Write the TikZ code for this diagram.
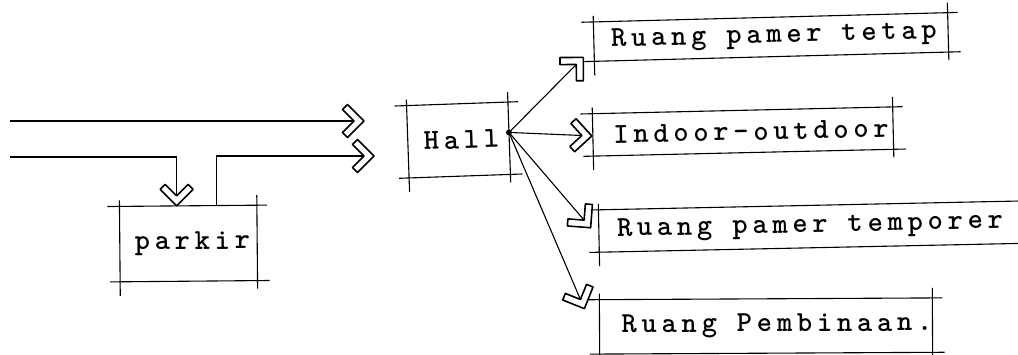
\documentclass[tikz,border=0pt]{standalone}
\usepackage{fontspec}
\newfontfamily\tw{lmmonolt10-bold.otf}[LetterSpace=16.5]
\usetikzlibrary{calc,decorations.markings}
\tikzset{
  ln/.style={line width=1.1pt},
  chev/.style={postaction={decorate},decoration={markings,mark=at position 1 with {%
     \draw[line width=1.6pt,fill=white,line join=round]
       (0,0)--(-16.5,16.5)--(-21.5,11.5)--(-10,0)--(-21.5,-11.5)--(-16.5,-16.5)--cycle;}}},
  skb/.style={inner sep=0pt, font=\tw\fontsize{29}{32}\selectfont}
}
\newcommand\skbox[1]{%
  \draw[ln] ($(#1.north west)!-12pt!(#1.north east)$) -- ($(#1.north east)!-10pt!(#1.north west)$)
            ($(#1.south west)!-10pt!(#1.south east)$) -- ($(#1.south east)!-12pt!(#1.south west)$)
            ($(#1.north west)!-6pt!(#1.south west)$) -- ($(#1.south west)!-14pt!(#1.north west)$)
            ($(#1.north east)!-10pt!(#1.south east)$) -- ($(#1.south east)!-8pt!(#1.north east)$);}
\begin{document}
\begin{tikzpicture}[x=1pt,y=-1pt]
\clip (0,0) rectangle (1018,354);
\fill[white] (0,0) rectangle (1018,354);
% boxes
\node[skb, minimum width=137pt, minimum height=75pt, rotate=0.5] (parkir) at (188.5,243.5) {\hspace*{8pt}parkir};
\node[skb, minimum width=101pt, minimum height=72pt, rotate=2] (hall) at (458.5,140) {\hspace*{6pt}Hall};
\node[skb, minimum width=354pt, minimum height=39pt, rotate=1.5] (tetap) at (771,37) {\hspace*{6pt}Ruang pamer tetap};
\node[skb, minimum width=300pt, minimum height=42pt, rotate=1.3] (indoor) at (743,131.5) {\hspace*{16pt}Indoor-outdoor};
\node[skb, minimum width=460pt, minimum height=42pt, rotate=1.2] (temporer) at (829,226.2) {\hspace*{-38pt}Ruang pamer temporer};
\node[skb, minimum width=330pt, minimum height=54pt, rotate=0.3] (pemb) at (766,326) {\hspace*{22pt}Ruang Pembinaan.};
\skbox{parkir}
\skbox{hall}
\skbox{tetap}
\skbox{indoor}
\skbox{temporer}
\skbox{pemb}
% entry connectors
\coordinate (in1) at (10,121);
\coordinate (a1) at (364,121);
\draw[ln,chev] (in1) -- (a1);
\coordinate (in2) at (10,157);
\coordinate (p1) at ($(parkir.north west)!0.416!(parkir.north east)$);
\draw[ln,chev] (in2) -| (p1);
\coordinate (p2) at ($(parkir.north west)!0.708!(parkir.north east)$);
\coordinate (a2) at (374,156);
\draw[ln,chev] (p2) |- (a2);
% hub connectors
\coordinate (hub) at ($(hall.north east)!0.42!(hall.south east)$);
\draw[ln,chev] (hub) -- ($(tetap.south west)+(-11,-4)$);
\draw[ln,chev] (hub) -- ($(indoor.west)+(-1,1)$);
\draw[ln,chev] (hub) -- ($(temporer.west)+(-8,-3)$);
\draw[ln,chev] (hub) -- ($(pemb.north west)+(-15,9)$);
\fill (hub) circle[radius=3pt];
\end{tikzpicture}
\end{document}
